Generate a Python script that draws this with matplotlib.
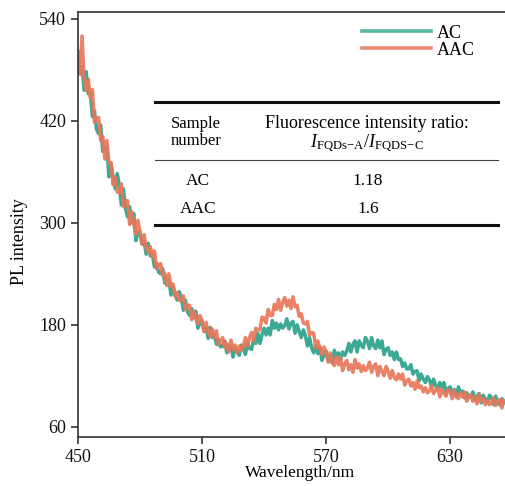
import numpy as np
import matplotlib
matplotlib.use("Agg")
import matplotlib.pyplot as plt
from matplotlib.lines import Line2D

plt.rcParams["font.family"] = ["Liberation Serif", "DejaVu Serif"]
plt.rcParams["mathtext.fontset"] = "custom"
plt.rcParams["mathtext.rm"] = "Liberation Serif"
plt.rcParams["mathtext.it"] = "Liberation Serif:italic"

# wavelength grid, 1 nm steps
wavelength = np.arange(450, 657)

ac = [
    501, 476, 483, 456, 478, 452, 453, 425, 432, 410,
    405, 415, 384, 389, 388, 354, 370, 354, 340, 358,
    344, 321, 340, 317, 307, 319, 300, 311, 279, 288,
    289, 275, 278, 263, 276, 261, 263, 248, 252, 242,
    240, 246, 229, 233, 233, 215, 225, 216, 209, 219,
    212, 197, 209, 195, 191, 199, 188, 196, 176, 182,
    185, 172, 176, 164, 177, 165, 168, 157, 162, 154,
    155, 161, 147, 154, 156, 142, 153, 148, 144, 156,
    153, 145, 159, 152, 151, 164, 158, 170, 158, 168,
    176, 168, 176, 168, 185, 176, 182, 174, 181, 176,
    179, 187, 175, 182, 184, 170, 180, 172, 165, 174,
    167, 155, 165, 153, 147, 156, 146, 154, 138, 145,
    149, 138, 144, 135, 150, 141, 147, 139, 148, 144,
    149, 158, 148, 157, 161, 148, 161, 156, 153, 165,
    161, 152, 165, 155, 152, 162, 153, 161, 145, 151,
    153, 144, 148, 139, 148, 139, 140, 131, 135, 128,
    128, 133, 122, 125, 126, 114, 122, 116, 112, 119,
    115, 107, 116, 108, 105, 112, 106, 112, 100, 105,
    107, 99, 104, 96, 107, 99, 102, 94, 100, 94,
    95, 101, 92, 96, 99, 88, 97, 92, 89, 97,
    94, 86, 96, 88, 86, 93, 88,
]

aac = [
    501, 475, 520, 469, 456, 469, 447, 457, 418, 424,
    424, 397, 402, 375, 397, 370, 371, 345, 354, 336,
    336, 346, 319, 326, 326, 298, 313, 299, 287, 303,
    290, 275, 286, 271, 265, 272, 260, 267, 246, 251,
    252, 238, 241, 226, 240, 225, 228, 213, 218, 209,
    208, 214, 198, 203, 203, 186, 196, 188, 181, 191,
    184, 172, 183, 171, 166, 175, 165, 173, 156, 162,
    165, 153, 158, 148, 162, 151, 156, 147, 155, 150,
    155, 165, 155, 165, 171, 161, 176, 174, 174, 189,
    188, 182, 198, 191, 191, 204, 198, 210, 197, 206,
    212, 202, 209, 199, 213, 201, 203, 190, 193, 182,
    181, 184, 168, 171, 170, 153, 161, 152, 145, 154,
    147, 136, 147, 136, 132, 142, 133, 142, 126, 134,
    138, 127, 133, 124, 139, 129, 134, 125, 132, 126,
    129, 136, 124, 131, 134, 120, 131, 125, 120, 131,
    125, 117, 126, 118, 115, 122, 116, 122, 109, 114,
    116, 108, 112, 104, 114, 106, 108, 101, 106, 100,
    102, 108, 99, 103, 106, 95, 104, 99, 96, 104,
    101, 93, 103, 95, 93, 100, 95, 101, 90, 95,
    98, 90, 95, 87, 98, 90, 93, 86, 91, 86,
    88, 94, 85, 90, 92, 82, 91,
]

x_ticks = [450, 510, 570, 630]
y_ticks = [60, 180, 300, 420, 540]

table_rows = [("AC", "1.18"), ("AAC", "1.6")]

fig = plt.figure(figsize=(5.06, 4.86), dpi=100)
ax = fig.add_axes([0.154, 0.101, 0.846, 0.874])

ax.plot(wavelength, ac, color="#3CA994", lw=2.5, label="AC")
ax.plot(wavelength, aac, color="#E9775A", lw=2.5, alpha=0.92, label="AAC")

ax.set_xlim(450, 657)
ax.set_ylim(48, 548)
ax.set_xticks(x_ticks)
ax.set_yticks(y_ticks)
ax.spines["right"].set_visible(False)
for s in ["left", "bottom", "top"]:
    ax.spines[s].set_linewidth(1.2)
    ax.spines[s].set_color("#333333")
ax.tick_params(direction="out", length=5, width=1.2, labelsize=13, colors="#333333")
ax.tick_params(labelcolor="#111111")
ax.set_xlabel("Wavelength/nm", fontsize=12.5)
ax.set_ylabel("PL intensity", fontsize=13)
ax.xaxis.set_label_coords(0.52, -0.066)
ax.yaxis.set_label_coords(-0.117, 0.46)

leg = ax.legend(loc="upper left", bbox_to_anchor=(0.635, 1.0), frameon=False,
                fontsize=13, handlelength=3.8, handletextpad=0.3,
                labelspacing=0.0, borderaxespad=0.3)
for h in leg.get_lines():
    h.set_linewidth(2.6)
    h.set_alpha(0.85)

# table drawn in figure pixel coordinates
W, H = 506, 486
def fx(px):
    return px / W
def fy(py):
    return 1 - py / H

tr = fig.transFigure
fig.add_artist(Line2D([fx(155), fx(498)], [fy(102), fy(102)], lw=2.2, color="#111111", transform=tr))
fig.add_artist(Line2D([fx(155), fx(498)], [fy(160), fy(160)], lw=0.8, color="#444444", transform=tr))
fig.add_artist(Line2D([fx(155), fx(498)], [fy(225), fy(225)], lw=2.2, color="#111111", transform=tr))

fig.text(fx(196), fy(124), "Sample", ha="center", va="center", fontsize=12)
fig.text(fx(196), fy(141), "number", ha="center", va="center", fontsize=12)
fig.text(fx(367), fy(123), "Fluorescence intensity ratio:", ha="center", va="center", fontsize=13)
fig.text(fx(367), fy(143), r"$I_{\mathrm{FQDs\!-\!A}}/I_{\mathrm{FQDS\!-\!C}}$",
         ha="center", va="center", fontsize=13)
for i, (name, ratio) in enumerate(table_rows):
    y = [181, 209][i]
    fig.text(fx(198), fy(y), name, ha="center", va="center", fontsize=12.5)
    fig.text(fx(368), fy(y), ratio, ha="center", va="center", fontsize=12.5)

fig.savefig("out.png", dpi=100)
